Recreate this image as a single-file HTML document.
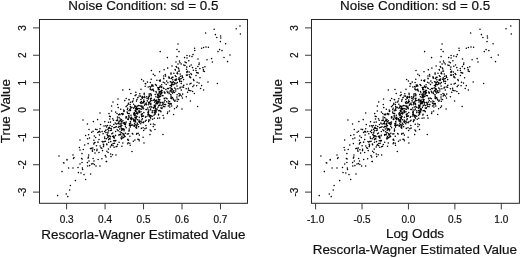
<!DOCTYPE html>
<html><head><meta charset="utf-8"><style>
html,body{margin:0;padding:0;background:#fff;width:520px;height:258px;overflow:hidden}
svg{display:block;will-change:transform;font-family:"Liberation Sans",sans-serif;fill:#111}
.b{stroke:#111;stroke-width:0.2px}
.t{stroke:#111;stroke-width:0.2px}
</style></head><body>
<svg width="520" height="258" viewBox="0 0 520 258">
<rect width="520" height="258" fill="#fff"/>
<rect x="39.5" y="19.5" width="208.0" height="183.8" fill="none" stroke="#262626" stroke-width="1"/><path d="M33.0 192.11H39.5" stroke="#3a3a3a" stroke-width="1"/><text transform="translate(26.35 192.11) rotate(-90)" text-anchor="middle" font-size="10" class="t">-3</text><path d="M33.0 164.74H39.5" stroke="#3a3a3a" stroke-width="1"/><text transform="translate(26.35 164.74) rotate(-90)" text-anchor="middle" font-size="10" class="t">-2</text><path d="M33.0 137.37H39.5" stroke="#3a3a3a" stroke-width="1"/><text transform="translate(26.35 137.37) rotate(-90)" text-anchor="middle" font-size="10" class="t">-1</text><path d="M33.0 110.00H39.5" stroke="#3a3a3a" stroke-width="1"/><text transform="translate(26.35 110.00) rotate(-90)" text-anchor="middle" font-size="10" class="t">0</text><path d="M33.0 82.63H39.5" stroke="#3a3a3a" stroke-width="1"/><text transform="translate(26.35 82.63) rotate(-90)" text-anchor="middle" font-size="10" class="t">1</text><path d="M33.0 55.26H39.5" stroke="#3a3a3a" stroke-width="1"/><text transform="translate(26.35 55.26) rotate(-90)" text-anchor="middle" font-size="10" class="t">2</text><path d="M33.0 27.89H39.5" stroke="#3a3a3a" stroke-width="1"/><text transform="translate(26.35 27.89) rotate(-90)" text-anchor="middle" font-size="10" class="t">3</text><path d="M66.60 203.3V209.4" stroke="#3a3a3a" stroke-width="1"/><text x="66.60" y="223.3" text-anchor="middle" font-size="10" class="t">0.3</text><path d="M105.07 203.3V209.4" stroke="#3a3a3a" stroke-width="1"/><text x="105.07" y="223.3" text-anchor="middle" font-size="10" class="t">0.4</text><path d="M143.54 203.3V209.4" stroke="#3a3a3a" stroke-width="1"/><text x="143.54" y="223.3" text-anchor="middle" font-size="10" class="t">0.5</text><path d="M182.01 203.3V209.4" stroke="#3a3a3a" stroke-width="1"/><text x="182.01" y="223.3" text-anchor="middle" font-size="10" class="t">0.6</text><path d="M220.48 203.3V209.4" stroke="#3a3a3a" stroke-width="1"/><text x="220.48" y="223.3" text-anchor="middle" font-size="10" class="t">0.7</text><text transform="translate(10.15 111.2) rotate(-90)" text-anchor="middle" font-size="13.42" class="b">True Value</text><text x="143.40" y="10.1" text-anchor="middle" font-size="13.42" class="b">Noise Condition: sd = 0.5</text><text x="143.4" y="238.9" text-anchor="middle" font-size="13.42" class="b">Rescorla-Wagner Estimated Value</text>
<rect x="311.5" y="19.5" width="207.89999999999998" height="183.8" fill="none" stroke="#262626" stroke-width="1"/><path d="M305.0 192.11H311.5" stroke="#3a3a3a" stroke-width="1"/><text transform="translate(298.35 192.11) rotate(-90)" text-anchor="middle" font-size="10" class="t">-3</text><path d="M305.0 164.74H311.5" stroke="#3a3a3a" stroke-width="1"/><text transform="translate(298.35 164.74) rotate(-90)" text-anchor="middle" font-size="10" class="t">-2</text><path d="M305.0 137.37H311.5" stroke="#3a3a3a" stroke-width="1"/><text transform="translate(298.35 137.37) rotate(-90)" text-anchor="middle" font-size="10" class="t">-1</text><path d="M305.0 110.00H311.5" stroke="#3a3a3a" stroke-width="1"/><text transform="translate(298.35 110.00) rotate(-90)" text-anchor="middle" font-size="10" class="t">0</text><path d="M305.0 82.63H311.5" stroke="#3a3a3a" stroke-width="1"/><text transform="translate(298.35 82.63) rotate(-90)" text-anchor="middle" font-size="10" class="t">1</text><path d="M305.0 55.26H311.5" stroke="#3a3a3a" stroke-width="1"/><text transform="translate(298.35 55.26) rotate(-90)" text-anchor="middle" font-size="10" class="t">2</text><path d="M305.0 27.89H311.5" stroke="#3a3a3a" stroke-width="1"/><text transform="translate(298.35 27.89) rotate(-90)" text-anchor="middle" font-size="10" class="t">3</text><path d="M315.60 203.3V209.4" stroke="#3a3a3a" stroke-width="1"/><text x="315.60" y="223.3" text-anchor="middle" font-size="10" class="t">-1.0</text><path d="M362.02 203.3V209.4" stroke="#3a3a3a" stroke-width="1"/><text x="362.02" y="223.3" text-anchor="middle" font-size="10" class="t">-0.5</text><path d="M408.45 203.3V209.4" stroke="#3a3a3a" stroke-width="1"/><text x="408.45" y="223.3" text-anchor="middle" font-size="10" class="t">0.0</text><path d="M454.88 203.3V209.4" stroke="#3a3a3a" stroke-width="1"/><text x="454.88" y="223.3" text-anchor="middle" font-size="10" class="t">0.5</text><path d="M501.30 203.3V209.4" stroke="#3a3a3a" stroke-width="1"/><text x="501.30" y="223.3" text-anchor="middle" font-size="10" class="t">1.0</text><text transform="translate(282.0 111.2) rotate(-90)" text-anchor="middle" font-size="13.42" class="b">True Value</text><text x="415.10" y="10.1" text-anchor="middle" font-size="13.42" class="b">Noise Condition: sd = 0.5</text><text x="415.0" y="238.4" text-anchor="middle" font-size="13.42" class="b">Log Odds</text><text x="414.8" y="254.2" text-anchor="middle" font-size="13.42" class="b">Rescorla-Wagner Estimated Value</text>
<path d="M240.0 26.0h0M236.2 28.8h0M240.4 34.0h0M214.2 29.2h0M205.6 33.0h0M215.4 34.6h0M216.8 37.4h0M220.6 36.0h0M220.8 38.0h0M220.4 41.6h0M225.6 43.8h0M178.0 44.0h0M177.0 49.4h0M179.0 51.6h0M160.2 51.6h0M194.6 48.2h0M194.8 50.4h0M201.6 48.2h0M203.6 47.4h0M206.0 47.0h0M208.4 47.2h0M219.6 49.6h0M222.0 50.6h0M218.0 51.6h0M230.0 55.0h0M224.0 57.4h0M227.6 61.6h0M211.6 58.6h0M212.4 62.0h0M207.0 59.8h0M198.0 59.0h0M199.2 63.0h0M167.4 57.6h0M177.0 56.6h0M193.0 54.6h0M192.0 56.6h0M189.6 56.0h0M187.0 55.4h0M184.6 57.6h0M187.0 58.0h0M217.4 83.4h0M208.0 82.0h0M201.6 85.6h0M200.6 88.4h0M203.6 90.0h0M194.4 93.4h0M190.4 101.0h0M197.6 106.4h0M182.0 109.0h0M173.6 114.4h0M199.0 64.4h0M163.0 134.4h0M150.0 134.6h0M155.0 129.4h0M144.0 143.0h0M141.6 79.4h0M129.6 89.4h0M122.8 90.0h0M118.0 99.0h0M113.0 102.0h0M111.6 106.0h0M117.6 104.4h0M100.0 113.0h0M109.0 113.6h0M111.6 111.0h0M83.0 120.0h0M97.6 119.6h0M151.4 70.4h0M172.0 66.0h0M176.0 62.0h0M178.0 64.0h0M59.0 156.0h0M64.0 163.0h0M67.0 159.6h0M73.0 155.0h0M74.0 157.4h0M80.0 140.0h0M85.6 135.4h0M89.0 129.4h0M87.4 124.0h0M93.4 121.6h0M80.0 150.0h0M82.0 153.6h0M81.6 158.4h0M132.0 151.4h0M116.0 155.0h0M111.0 156.6h0M106.0 157.0h0M106.2 161.5h0M101.9 158.8h0M57.6 195.6h0M66.2 194.0h0M67.8 196.6h0M69.6 190.0h0M70.4 185.4h0M75.4 180.6h0M85.6 179.4h0M62.0 171.6h0M63.6 162.8h0M68.6 168.0h0M73.0 168.0h0M78.0 167.4h0M78.4 172.6h0M81.0 173.0h0M84.0 174.6h0M90.6 174.0h0M82.4 168.0h0M82.6 169.4h0M80.0 164.0h0M82.0 162.4h0M87.4 162.6h0M87.6 166.0h0M89.6 165.6h0M91.6 164.0h0M93.0 163.6h0M94.4 164.4h0M96.0 166.0h0M100.0 166.0h0M106.6 161.6h0M94.0 161.0h0M89.0 161.0h0M67.0 160.0h0M188.8 60.8h0M179.4 61.1h0M180.0 62.8h0M185.0 62.0h0M186.2 62.8h0M181.2 64.0h0M183.8 64.9h0M185.0 65.5h0M191.2 64.9h0M73.5 158.5h0M82.2 159.0h0M92.3 150.0h0M92.5 151.2h0M96.9 150.6h0M95.0 153.1h0M99.0 152.5h0M102.5 150.6h0M106.9 151.2h0M108.1 152.5h0M110.6 154.0h0M112.5 154.8h0M105.3 155.6h0M88.7 155.0h0M88.5 156.9h0M88.1 158.1h0M93.1 158.5h0M98.1 159.4h0M94.4 149.8h0M83.3 149.5h0M97.0 149.2h0M108.4 149.1h0M90.5 148.6h0M91.5 148.3h0M101.8 148.3h0M92.8 147.9h0M100.9 147.7h0M79.4 147.5h0M114.1 147.3h0M110.4 147.0h0M116.1 146.8h0M103.5 146.6h0M103.5 146.5h0M121.9 146.3h0M117.0 146.2h0M100.1 145.9h0M96.5 145.7h0M113.0 145.6h0M111.3 145.4h0M130.2 145.3h0M84.7 145.0h0M103.7 145.0h0M106.9 144.8h0M111.7 144.6h0M117.6 144.5h0M103.4 144.2h0M106.7 144.1h0M93.8 143.9h0M127.7 143.8h0M88.1 143.6h0M113.1 143.4h0M129.8 143.2h0M114.5 143.2h0M122.8 143.0h0M94.2 142.9h0M128.2 142.7h0M95.0 142.5h0M119.1 142.3h0M108.7 142.2h0M98.0 142.2h0M102.8 142.0h0M98.0 141.9h0M110.8 141.6h0M104.1 141.6h0M102.2 141.4h0M105.4 141.3h0M133.3 141.2h0M114.9 140.9h0M113.6 140.8h0M139.3 140.8h0M115.8 140.6h0M114.8 140.5h0M128.5 140.3h0M93.9 140.2h0M134.9 140.1h0M127.7 139.8h0M108.7 139.6h0M138.9 139.5h0M99.0 139.4h0M127.9 139.3h0M137.9 139.2h0M121.5 139.0h0M110.2 138.9h0M87.6 138.7h0M106.4 138.7h0M109.5 138.5h0M104.8 138.4h0M121.9 138.2h0M114.2 138.1h0M121.0 138.0h0M89.5 137.9h0M123.1 137.7h0M107.8 137.6h0M113.7 137.6h0M95.7 137.4h0M143.1 137.3h0M104.6 137.1h0M114.2 137.0h0M124.0 136.9h0M110.5 136.8h0M108.3 136.7h0M121.9 136.6h0M125.1 136.5h0M112.6 136.4h0M129.9 136.3h0M109.8 136.1h0M113.5 136.0h0M94.3 135.9h0M108.9 135.8h0M124.5 135.7h0M115.5 135.6h0M107.5 135.5h0M119.0 135.3h0M115.6 135.3h0M139.3 135.1h0M99.5 135.0h0M123.1 134.9h0M120.8 134.8h0M88.6 134.7h0M120.4 134.6h0M107.2 134.5h0M119.1 134.4h0M136.6 134.3h0M124.0 134.2h0M132.9 134.1h0M127.3 134.0h0M111.8 133.8h0M103.1 133.7h0M128.5 133.7h0M136.8 133.5h0M132.3 133.4h0M122.9 133.4h0M125.4 133.2h0M138.2 133.2h0M112.8 133.0h0M120.9 133.0h0M107.9 132.9h0M106.0 132.6h0M97.8 132.5h0M121.5 132.5h0M108.0 132.3h0M91.7 132.2h0M100.1 132.0h0M120.0 131.8h0M98.8 131.8h0M102.1 131.6h0M104.7 131.6h0M115.6 131.5h0M115.6 131.4h0M99.4 131.3h0M93.1 131.2h0M129.0 131.1h0M151.1 131.0h0M124.0 130.8h0M108.8 130.7h0M118.2 130.7h0M143.7 130.5h0M129.2 130.5h0M110.6 130.4h0M105.7 130.3h0M121.5 130.2h0M111.5 130.1h0M122.1 130.0h0M150.2 129.9h0M106.0 129.9h0M117.2 129.8h0M97.0 129.6h0M124.2 129.5h0M107.9 129.5h0M124.1 129.3h0M95.5 129.3h0M123.1 129.2h0M122.5 129.1h0M119.7 129.0h0M129.2 128.9h0M100.0 128.8h0M144.9 128.8h0M123.1 128.7h0M111.2 128.5h0M121.5 128.5h0M141.4 128.4h0M108.5 128.3h0M109.8 128.2h0M146.2 128.1h0M136.7 128.1h0M136.3 128.0h0M143.1 127.8h0M113.9 127.7h0M126.2 127.7h0M109.4 127.6h0M109.0 127.5h0M135.8 127.3h0M115.2 127.3h0M118.3 127.2h0M130.2 127.1h0M106.6 127.0h0M121.0 126.9h0M138.6 126.8h0M116.3 126.8h0M136.4 126.7h0M153.3 126.6h0M112.0 126.5h0M119.0 126.4h0M120.0 126.4h0M120.4 126.3h0M125.4 126.2h0M134.5 126.1h0M104.0 126.0h0M133.9 125.9h0M130.2 125.8h0M105.8 125.8h0M136.9 125.7h0M121.8 125.6h0M145.9 125.5h0M110.1 125.4h0M107.5 125.4h0M129.4 125.3h0M131.1 125.2h0M134.2 125.2h0M136.5 125.1h0M132.5 125.0h0M131.5 124.9h0M154.9 124.8h0M120.9 124.7h0M135.3 124.7h0M125.3 124.5h0M138.0 124.5h0M100.6 124.4h0M113.8 124.4h0M129.9 124.2h0M150.6 124.2h0M116.4 124.1h0M124.4 124.1h0M153.4 123.9h0M119.3 123.9h0M125.7 123.8h0M140.8 123.7h0M117.9 123.6h0M120.9 123.5h0M129.5 123.4h0M134.6 123.3h0M137.3 123.2h0M121.3 123.1h0M115.2 123.1h0M123.0 123.0h0M123.7 122.9h0M130.6 122.9h0M118.7 122.7h0M143.3 122.7h0M139.7 122.6h0M124.7 122.5h0M139.8 122.4h0M108.5 122.3h0M143.6 122.3h0M141.9 122.2h0M110.5 122.1h0M126.1 122.1h0M135.7 121.9h0M143.6 121.9h0M104.8 121.8h0M138.8 121.7h0M148.6 121.6h0M130.4 121.6h0M119.0 121.5h0M121.7 121.4h0M130.4 121.4h0M140.8 121.3h0M145.3 121.2h0M133.8 121.1h0M135.3 121.1h0M139.3 121.0h0M134.8 120.9h0M120.0 120.8h0M122.9 120.7h0M120.8 120.7h0M133.8 120.6h0M116.4 120.5h0M117.5 120.4h0M113.5 120.3h0M146.2 120.2h0M135.2 120.1h0M148.7 120.0h0M139.0 120.0h0M149.8 119.9h0M137.3 119.8h0M141.8 119.8h0M131.5 119.6h0M134.9 119.6h0M121.5 119.5h0M128.4 119.4h0M133.3 119.4h0M152.6 119.3h0M133.2 119.3h0M127.7 119.2h0M130.9 119.1h0M109.8 119.0h0M120.2 119.0h0M117.5 118.9h0M142.4 118.8h0M128.4 118.8h0M112.7 118.7h0M136.1 118.6h0M132.9 118.5h0M130.5 118.4h0M131.3 118.4h0M157.7 118.3h0M154.3 118.3h0M163.8 118.1h0M150.7 118.1h0M159.6 118.0h0M125.9 117.9h0M135.1 117.8h0M126.4 117.8h0M119.1 117.6h0M131.1 117.6h0M134.9 117.5h0M136.1 117.4h0M139.3 117.3h0M131.5 117.3h0M145.5 117.2h0M150.3 117.2h0M117.5 117.1h0M126.6 117.0h0M128.7 116.9h0M129.5 116.9h0M126.0 116.8h0M141.7 116.7h0M137.0 116.6h0M110.3 116.6h0M146.0 116.5h0M149.7 116.4h0M142.4 116.3h0M109.5 116.3h0M152.2 116.2h0M136.0 116.1h0M143.2 116.1h0M151.4 116.0h0M143.5 115.9h0M147.9 115.9h0M149.5 115.7h0M141.8 115.7h0M134.7 115.6h0M128.8 115.5h0M150.8 115.5h0M163.1 115.4h0M134.8 115.3h0M131.0 115.3h0M154.0 115.2h0M149.4 115.1h0M134.0 115.0h0M141.7 115.0h0M158.5 114.9h0M120.0 114.8h0M141.4 114.8h0M118.5 114.7h0M148.7 114.7h0M122.5 114.6h0M133.8 114.5h0M147.9 114.3h0M141.4 114.3h0M158.6 114.2h0M155.0 114.2h0M119.6 114.1h0M137.5 114.0h0M135.4 114.0h0M123.4 113.9h0M121.6 113.8h0M133.7 113.8h0M142.4 113.7h0M129.2 113.6h0M127.9 113.5h0M117.0 113.5h0M122.2 113.4h0M167.4 113.4h0M148.4 113.3h0M136.6 113.2h0M155.3 113.2h0M138.0 113.1h0M134.5 113.0h0M155.0 113.0h0M134.2 112.8h0M154.4 112.8h0M148.5 112.7h0M127.4 112.7h0M143.9 112.6h0M152.2 112.6h0M134.3 112.4h0M139.6 112.4h0M147.9 112.3h0M154.3 112.3h0M139.3 112.2h0M136.8 112.1h0M115.7 112.1h0M156.2 112.0h0M127.2 112.0h0M167.7 111.9h0M141.0 111.8h0M160.9 111.7h0M156.0 111.7h0M155.4 111.6h0M148.5 111.5h0M123.9 111.4h0M138.9 111.4h0M135.6 111.4h0M160.8 111.2h0M139.5 111.1h0M124.3 111.1h0M152.3 111.0h0M169.5 111.0h0M129.0 110.8h0M158.7 110.8h0M139.0 110.7h0M152.2 110.7h0M159.8 110.6h0M135.1 110.5h0M135.4 110.5h0M130.5 110.4h0M154.1 110.4h0M130.6 110.3h0M155.4 110.2h0M155.7 110.1h0M148.3 110.1h0M156.8 110.0h0M123.6 109.9h0M150.1 109.9h0M136.2 109.8h0M136.9 109.8h0M156.7 109.7h0M127.4 109.6h0M129.8 109.5h0M146.6 109.5h0M146.0 109.4h0M130.1 109.3h0M141.6 109.3h0M120.7 109.2h0M137.6 109.2h0M157.1 109.1h0M150.7 109.0h0M136.5 108.9h0M140.8 108.9h0M174.5 108.8h0M143.5 108.8h0M139.5 108.7h0M135.7 108.6h0M161.9 108.5h0M138.1 108.5h0M155.7 108.4h0M127.7 108.3h0M133.7 108.3h0M153.7 108.2h0M130.5 108.1h0M142.9 108.1h0M136.8 108.0h0M147.8 107.9h0M160.9 107.9h0M134.0 107.8h0M131.8 107.8h0M162.1 107.7h0M118.2 107.6h0M153.6 107.5h0M176.5 107.4h0M155.1 107.4h0M158.0 107.3h0M151.9 107.3h0M131.9 107.2h0M141.9 107.1h0M169.8 107.0h0M149.6 107.0h0M136.1 106.9h0M143.2 106.9h0M151.0 106.8h0M164.9 106.7h0M134.8 106.6h0M155.3 106.6h0M126.1 106.6h0M130.3 106.5h0M163.5 106.4h0M154.5 106.3h0M136.0 106.3h0M141.2 106.2h0M177.4 106.1h0M137.7 106.1h0M168.3 106.0h0M171.7 105.9h0M141.9 105.9h0M134.8 105.8h0M140.0 105.8h0M158.7 105.7h0M161.2 105.6h0M127.2 105.5h0M154.8 105.5h0M138.6 105.4h0M159.5 105.3h0M154.2 105.3h0M144.5 105.2h0M169.5 105.0h0M162.8 105.0h0M155.8 105.0h0M148.5 104.8h0M146.5 104.8h0M150.9 104.7h0M163.0 104.6h0M165.6 104.6h0M130.1 104.5h0M146.2 104.5h0M164.7 104.4h0M145.9 104.3h0M128.2 104.3h0M133.7 104.2h0M171.2 104.1h0M150.3 104.1h0M160.0 104.0h0M145.1 103.9h0M157.4 103.8h0M170.0 103.8h0M157.6 103.7h0M156.0 103.6h0M141.1 103.5h0M148.9 103.5h0M171.0 103.4h0M168.6 103.4h0M128.5 103.3h0M150.9 103.3h0M163.2 103.2h0M146.3 103.1h0M142.8 103.0h0M168.3 103.0h0M157.1 102.9h0M142.2 102.8h0M158.2 102.8h0M143.5 102.7h0M162.1 102.6h0M140.4 102.6h0M148.6 102.5h0M160.4 102.4h0M162.5 102.4h0M149.5 102.3h0M130.5 102.2h0M156.2 102.1h0M154.5 102.1h0M132.3 102.0h0M164.2 102.0h0M159.6 101.9h0M158.8 101.8h0M169.7 101.8h0M166.7 101.7h0M144.3 101.6h0M141.4 101.5h0M143.5 101.4h0M157.5 101.4h0M177.2 101.3h0M174.8 101.3h0M150.4 101.2h0M136.5 101.1h0M147.4 101.0h0M133.0 100.9h0M168.6 100.9h0M159.0 100.9h0M147.2 100.8h0M155.4 100.7h0M124.8 100.6h0M155.8 100.6h0M165.0 100.5h0M156.2 100.4h0M152.0 100.4h0M153.7 100.3h0M175.1 100.2h0M150.8 100.1h0M173.6 100.0h0M156.8 100.0h0M143.8 99.9h0M129.2 99.8h0M154.5 99.8h0M159.8 99.7h0M158.6 99.6h0M128.9 99.6h0M137.0 99.5h0M178.5 99.4h0M140.9 99.4h0M154.4 99.3h0M148.4 99.1h0M173.3 99.1h0M158.6 99.0h0M177.1 98.9h0M133.5 98.8h0M167.1 98.8h0M164.4 98.7h0M171.7 98.6h0M150.5 98.6h0M126.2 98.5h0M147.0 98.4h0M164.2 98.3h0M142.4 98.2h0M151.4 98.2h0M170.8 98.1h0M166.0 98.1h0M171.5 98.0h0M182.4 97.9h0M141.7 97.8h0M142.5 97.8h0M137.8 97.7h0M144.8 97.6h0M172.5 97.5h0M157.5 97.5h0M148.4 97.4h0M138.0 97.4h0M158.8 97.3h0M143.2 97.2h0M148.6 97.1h0M176.9 97.1h0M158.5 96.9h0M159.6 96.9h0M146.7 96.8h0M155.9 96.8h0M186.3 96.7h0M149.2 96.6h0M142.2 96.5h0M171.1 96.5h0M159.8 96.4h0M144.6 96.3h0M160.6 96.2h0M140.4 96.1h0M157.9 96.1h0M139.1 96.0h0M179.1 96.0h0M181.6 95.9h0M151.1 95.8h0M163.0 95.7h0M135.1 95.6h0M158.0 95.6h0M158.7 95.5h0M162.3 95.4h0M180.1 95.3h0M149.2 95.2h0M151.3 95.1h0M159.2 95.0h0M170.9 94.9h0M136.1 94.8h0M177.1 94.7h0M160.7 94.6h0M157.4 94.6h0M155.2 94.5h0M170.7 94.4h0M144.2 94.3h0M180.1 94.3h0M151.0 94.2h0M182.7 94.1h0M150.8 94.0h0M149.2 93.9h0M158.3 93.9h0M139.8 93.8h0M150.5 93.7h0M169.1 93.6h0M178.9 93.5h0M161.4 93.5h0M130.9 93.4h0M164.9 93.3h0M144.2 93.3h0M159.5 93.1h0M172.6 93.1h0M160.7 93.0h0M161.4 92.9h0M156.4 92.8h0M162.1 92.7h0M167.6 92.6h0M174.5 92.5h0M164.9 92.5h0M135.8 92.3h0M173.1 92.3h0M187.6 92.2h0M169.1 92.1h0M159.0 92.0h0M171.3 92.0h0M164.2 91.9h0M159.6 91.8h0M171.2 91.7h0M173.0 91.6h0M161.2 91.6h0M192.6 91.4h0M156.0 91.4h0M167.1 91.3h0M170.9 91.2h0M160.6 91.2h0M175.7 91.0h0M153.8 90.9h0M173.8 90.8h0M190.8 90.7h0M162.1 90.7h0M170.3 90.5h0M153.3 90.4h0M189.3 90.4h0M161.7 90.3h0M188.8 90.2h0M171.2 90.1h0M188.5 90.0h0M181.3 90.0h0M151.2 89.9h0M172.3 89.8h0M159.3 89.7h0M158.3 89.6h0M165.9 89.5h0M152.5 89.4h0M141.0 89.3h0M153.2 89.3h0M175.8 89.1h0M150.1 89.1h0M150.4 89.0h0M172.2 88.9h0M186.2 88.8h0M177.9 88.7h0M168.5 88.6h0M158.3 88.6h0M164.0 88.4h0M167.5 88.4h0M188.4 88.3h0M171.2 88.2h0M180.0 88.1h0M174.6 88.0h0M158.5 87.9h0M163.4 87.9h0M170.1 87.7h0M157.8 87.6h0M159.3 87.6h0M161.3 87.4h0M183.5 87.3h0M180.3 87.2h0M150.5 87.1h0M182.1 87.0h0M148.2 86.9h0M161.8 86.8h0M192.9 86.6h0M149.9 86.6h0M160.2 86.4h0M145.2 86.3h0M171.5 86.2h0M151.9 86.2h0M177.0 86.0h0M160.2 86.0h0M153.2 85.9h0M196.7 85.7h0M156.4 85.6h0M156.3 85.5h0M170.2 85.4h0M183.5 85.4h0M193.9 85.3h0M183.8 85.2h0M151.6 85.1h0M152.6 84.9h0M171.5 84.9h0M161.7 84.8h0M173.1 84.7h0M166.2 84.5h0M155.5 84.5h0M171.5 84.3h0M187.0 84.2h0M174.3 84.1h0M172.1 84.1h0M189.9 84.0h0M145.8 83.8h0M176.1 83.8h0M145.3 83.6h0M181.2 83.5h0M175.8 83.3h0M191.0 83.2h0M199.0 83.1h0M164.7 83.0h0M167.9 82.8h0M174.4 82.7h0M172.1 82.7h0M177.3 82.6h0M150.4 82.4h0M163.3 82.3h0M197.1 82.3h0M147.5 82.1h0M172.9 82.0h0M171.0 81.9h0M173.4 81.8h0M170.3 81.7h0M179.7 81.6h0M181.5 81.4h0M160.1 81.3h0M181.2 81.3h0M166.7 81.1h0M143.5 80.9h0M159.4 80.6h0M193.9 80.6h0M176.0 80.4h0M156.9 80.2h0M179.6 80.2h0M174.9 80.1h0M160.4 79.9h0M172.7 79.8h0M183.6 79.6h0M175.6 79.5h0M193.5 79.4h0M151.2 79.3h0M178.5 79.2h0M176.5 79.1h0M179.9 79.0h0M163.8 78.8h0M181.2 78.5h0M171.2 78.5h0M163.6 78.3h0M169.2 78.2h0M171.8 78.0h0M200.0 77.8h0M190.7 77.8h0M179.1 77.7h0M182.7 77.4h0M172.2 77.3h0M169.2 77.2h0M172.9 77.2h0M168.6 77.0h0M189.6 76.9h0M182.2 76.6h0M176.0 76.5h0M189.9 76.4h0M180.4 76.2h0M165.6 76.1h0M163.7 76.0h0M182.1 75.8h0M175.3 75.7h0M154.9 75.6h0M196.0 75.5h0M186.7 75.3h0M187.3 75.1h0M186.4 75.0h0M189.2 74.7h0M165.3 74.5h0M191.5 74.4h0M153.3 74.2h0M171.0 74.1h0M180.2 73.9h0M177.7 73.7h0M177.1 73.5h0M190.9 73.4h0M173.9 73.2h0M198.2 73.1h0M171.0 72.9h0M197.2 72.8h0M196.6 72.5h0M187.0 72.4h0M177.3 72.2h0M186.7 72.1h0M189.2 71.9h0M159.6 71.8h0M204.4 71.5h0M178.8 71.3h0M187.5 71.2h0M179.4 70.9h0M203.4 70.9h0M196.0 70.4h0M193.4 70.2h0M175.3 70.1h0M164.1 69.8h0M203.4 69.5h0M175.1 69.4h0M186.5 69.3h0M178.9 69.0h0M199.9 68.6h0M195.9 68.5h0M167.7 68.1h0M178.3 68.0h0M202.9 67.6h0M192.5 67.6h0M176.7 67.3h0M186.8 67.1h0M204.9 66.8h0M197.9 66.5h0M176.2 66.4h0M189.6 66.2h0" stroke="#000" stroke-width="1.55" stroke-linecap="round" fill="none"/>
<path d="M510.8 26.0h0M506.0 28.8h0M511.3 34.0h0M480.0 29.2h0M470.6 33.0h0M481.4 34.6h0M482.9 37.4h0M487.3 36.0h0M487.5 38.0h0M487.0 41.6h0M493.1 43.8h0M442.1 44.0h0M441.1 49.4h0M443.1 51.6h0M424.6 51.6h0M459.0 48.2h0M459.2 50.4h0M466.3 48.2h0M468.4 47.4h0M471.0 47.0h0M473.6 47.2h0M486.1 49.6h0M488.9 50.6h0M484.3 51.6h0M498.3 55.0h0M491.2 57.4h0M495.5 61.6h0M477.1 58.6h0M478.0 62.0h0M472.1 59.8h0M462.5 59.0h0M463.8 63.0h0M431.6 57.6h0M441.1 56.6h0M457.3 54.6h0M456.3 56.6h0M453.8 56.0h0M451.1 55.4h0M448.7 57.6h0M451.1 58.0h0M483.6 83.4h0M473.2 82.0h0M466.3 85.6h0M465.2 88.4h0M468.4 90.0h0M458.7 93.4h0M454.6 101.0h0M462.1 106.4h0M446.1 109.0h0M437.7 114.4h0M463.6 64.4h0M427.3 134.4h0M414.7 134.6h0M419.5 129.4h0M408.9 143.0h0M406.6 79.4h0M395.0 89.4h0M388.3 90.0h0M383.6 99.0h0M378.7 102.0h0M377.3 106.0h0M383.3 104.4h0M365.7 113.0h0M374.7 113.6h0M377.3 111.0h0M347.9 120.0h0M363.2 119.6h0M416.0 70.4h0M436.1 66.0h0M440.1 62.0h0M442.1 64.0h0M320.9 156.0h0M326.8 163.0h0M330.2 159.6h0M337.0 155.0h0M338.1 157.4h0M344.7 140.0h0M350.7 135.4h0M354.3 129.4h0M352.6 124.0h0M358.9 121.6h0M344.7 150.0h0M346.9 153.6h0M346.4 158.4h0M397.3 151.4h0M381.7 155.0h0M376.7 156.6h0M371.7 157.0h0M372.0 161.5h0M367.6 158.8h0M319.2 195.6h0M329.3 194.0h0M331.2 196.6h0M333.2 190.0h0M334.1 185.4h0M339.7 180.6h0M350.7 179.4h0M324.4 171.6h0M326.3 162.8h0M332.1 168.0h0M337.0 168.0h0M342.5 167.4h0M343.0 172.6h0M345.8 173.0h0M349.0 174.6h0M356.0 174.0h0M347.3 168.0h0M347.5 169.4h0M344.7 164.0h0M346.9 162.4h0M352.6 162.6h0M352.8 166.0h0M354.9 165.6h0M357.0 164.0h0M358.5 163.6h0M359.9 164.4h0M361.6 166.0h0M365.7 166.0h0M372.3 161.6h0M359.5 161.0h0M354.3 161.0h0M330.2 160.0h0M452.9 60.8h0M443.5 61.1h0M444.1 62.8h0M449.1 62.0h0M450.4 62.8h0M445.3 64.0h0M447.9 64.9h0M449.1 65.5h0M455.5 64.9h0M337.6 158.5h0M347.1 159.0h0M357.7 150.0h0M358.0 151.2h0M362.5 150.6h0M360.6 153.1h0M364.7 152.5h0M368.2 150.6h0M372.6 151.2h0M373.8 152.5h0M376.3 154.0h0M378.2 154.8h0M371.0 155.6h0M354.0 155.0h0M353.8 156.9h0M353.4 158.1h0M358.6 158.5h0M363.7 159.4h0M359.9 149.8h0M348.2 149.5h0M362.6 149.2h0M374.2 149.1h0M355.9 148.6h0M356.9 148.3h0M367.5 148.3h0M358.3 147.9h0M366.6 147.7h0M344.1 147.5h0M379.8 147.3h0M376.2 147.0h0M381.7 146.8h0M369.3 146.6h0M369.2 146.5h0M387.5 146.3h0M382.6 146.2h0M365.8 145.9h0M362.1 145.7h0M378.7 145.6h0M377.0 145.4h0M395.5 145.3h0M349.8 145.0h0M369.5 145.0h0M372.6 144.8h0M377.4 144.6h0M383.3 144.5h0M369.1 144.2h0M372.4 144.1h0M359.3 143.9h0M393.1 143.8h0M353.4 143.6h0M378.8 143.4h0M395.2 143.2h0M380.2 143.2h0M388.3 143.0h0M359.8 142.9h0M393.6 142.7h0M360.5 142.5h0M384.7 142.3h0M374.5 142.2h0M363.6 142.2h0M368.5 142.0h0M363.6 141.9h0M376.5 141.6h0M369.8 141.6h0M368.0 141.4h0M371.1 141.3h0M398.5 141.2h0M380.6 140.9h0M379.3 140.8h0M404.4 140.8h0M381.4 140.6h0M380.5 140.5h0M393.9 140.3h0M359.4 140.2h0M400.1 140.1h0M393.1 139.8h0M374.5 139.6h0M403.9 139.5h0M364.7 139.4h0M393.4 139.3h0M403.0 139.2h0M387.0 139.0h0M375.9 138.9h0M352.9 138.7h0M372.2 138.7h0M375.2 138.5h0M370.5 138.4h0M387.5 138.2h0M379.9 138.1h0M386.6 138.0h0M354.8 137.9h0M388.6 137.7h0M373.5 137.6h0M379.4 137.6h0M361.3 137.4h0M408.1 137.3h0M370.3 137.1h0M379.9 137.0h0M389.5 136.9h0M376.2 136.8h0M374.0 136.7h0M387.5 136.6h0M390.6 136.5h0M378.3 136.4h0M395.3 136.3h0M375.6 136.1h0M379.2 136.0h0M359.8 135.9h0M374.6 135.8h0M390.1 135.7h0M381.2 135.6h0M373.3 135.5h0M384.7 135.3h0M381.3 135.3h0M404.3 135.1h0M365.1 135.0h0M388.7 134.9h0M386.4 134.8h0M353.9 134.7h0M386.0 134.6h0M372.9 134.5h0M384.7 134.4h0M401.7 134.3h0M389.6 134.2h0M398.1 134.1h0M392.8 134.0h0M377.5 133.8h0M368.8 133.7h0M393.9 133.7h0M401.9 133.5h0M397.6 133.4h0M388.5 133.4h0M390.9 133.2h0M403.3 133.2h0M378.5 133.0h0M386.5 133.0h0M373.7 132.9h0M371.7 132.6h0M363.5 132.5h0M387.1 132.5h0M373.8 132.3h0M357.1 132.2h0M365.8 132.0h0M385.6 131.8h0M364.5 131.8h0M367.8 131.6h0M370.4 131.6h0M381.3 131.5h0M381.3 131.4h0M365.0 131.3h0M358.5 131.2h0M394.4 131.1h0M415.7 131.0h0M389.5 130.8h0M374.6 130.7h0M383.8 130.7h0M408.6 130.5h0M394.5 130.5h0M376.4 130.4h0M371.5 130.3h0M387.1 130.2h0M377.3 130.1h0M387.7 130.0h0M414.9 129.9h0M371.7 129.9h0M382.9 129.8h0M362.6 129.6h0M389.7 129.5h0M373.7 129.5h0M389.6 129.3h0M361.1 129.3h0M388.7 129.2h0M388.1 129.1h0M385.3 129.0h0M394.5 128.9h0M365.7 128.8h0M409.8 128.8h0M388.6 128.7h0M377.0 128.5h0M387.1 128.5h0M406.3 128.4h0M374.3 128.3h0M375.6 128.2h0M411.1 128.1h0M401.8 128.1h0M401.5 128.0h0M408.0 127.8h0M379.6 127.7h0M391.6 127.7h0M375.1 127.6h0M374.8 127.5h0M401.0 127.3h0M380.9 127.3h0M383.9 127.2h0M395.5 127.1h0M372.4 127.0h0M386.6 126.9h0M403.7 126.8h0M382.0 126.8h0M401.5 126.7h0M417.9 126.6h0M377.7 126.5h0M384.6 126.4h0M385.6 126.4h0M386.0 126.3h0M390.8 126.2h0M399.7 126.1h0M369.7 126.0h0M399.1 125.9h0M395.5 125.8h0M371.6 125.8h0M402.0 125.7h0M387.4 125.6h0M410.8 125.5h0M375.8 125.4h0M373.2 125.4h0M394.8 125.3h0M396.5 125.2h0M399.4 125.2h0M401.6 125.1h0M397.8 125.0h0M396.8 124.9h0M419.4 124.8h0M386.5 124.7h0M400.5 124.7h0M390.8 124.5h0M403.1 124.5h0M366.3 124.4h0M379.5 124.4h0M395.3 124.2h0M415.3 124.2h0M382.1 124.1h0M389.9 124.1h0M417.9 123.9h0M384.9 123.9h0M391.2 123.8h0M405.8 123.7h0M383.6 123.6h0M386.5 123.5h0M394.9 123.4h0M399.8 123.3h0M402.4 123.2h0M386.9 123.1h0M380.9 123.1h0M388.5 123.0h0M389.2 122.9h0M395.9 122.9h0M384.3 122.7h0M408.2 122.7h0M404.8 122.6h0M390.2 122.5h0M404.8 122.4h0M374.2 122.3h0M408.5 122.3h0M406.8 122.2h0M376.2 122.1h0M391.5 122.1h0M400.9 121.9h0M408.6 121.9h0M370.5 121.8h0M403.8 121.7h0M413.4 121.6h0M395.7 121.6h0M384.6 121.5h0M387.3 121.4h0M395.8 121.4h0M405.8 121.3h0M410.1 121.2h0M399.1 121.1h0M400.5 121.1h0M404.4 121.0h0M400.0 120.9h0M385.6 120.8h0M388.4 120.7h0M386.4 120.7h0M399.0 120.6h0M382.0 120.5h0M383.2 120.4h0M379.2 120.3h0M411.0 120.2h0M400.4 120.1h0M413.5 120.0h0M404.1 120.0h0M414.5 119.9h0M402.4 119.8h0M406.8 119.8h0M396.8 119.6h0M400.1 119.6h0M387.0 119.5h0M393.8 119.4h0M398.6 119.4h0M417.2 119.3h0M398.5 119.3h0M393.2 119.2h0M396.2 119.1h0M375.5 119.0h0M385.8 119.0h0M383.1 118.9h0M407.3 118.8h0M393.8 118.8h0M378.5 118.7h0M401.3 118.6h0M398.2 118.5h0M395.8 118.4h0M396.6 118.4h0M422.1 118.3h0M418.8 118.3h0M428.0 118.1h0M415.4 118.1h0M424.0 118.0h0M391.4 117.9h0M400.3 117.8h0M391.9 117.8h0M384.7 117.6h0M396.4 117.6h0M400.1 117.5h0M401.3 117.4h0M404.4 117.3h0M396.8 117.3h0M410.3 117.2h0M415.0 117.2h0M383.1 117.1h0M392.0 117.0h0M394.1 116.9h0M394.9 116.9h0M391.5 116.8h0M406.7 116.7h0M402.1 116.6h0M376.1 116.6h0M410.8 116.5h0M414.4 116.4h0M407.4 116.3h0M375.2 116.3h0M416.8 116.2h0M401.2 116.1h0M408.1 116.1h0M416.0 116.0h0M408.4 115.9h0M412.7 115.9h0M414.2 115.7h0M406.8 115.7h0M399.9 115.6h0M394.2 115.5h0M415.4 115.5h0M427.4 115.4h0M400.0 115.3h0M396.3 115.3h0M418.6 115.2h0M414.1 115.1h0M399.3 115.0h0M406.6 115.0h0M422.9 114.9h0M385.6 114.8h0M406.4 114.8h0M384.2 114.7h0M413.5 114.7h0M388.1 114.6h0M399.0 114.5h0M412.7 114.3h0M406.4 114.3h0M423.1 114.2h0M419.5 114.2h0M385.2 114.1h0M402.6 114.0h0M400.6 114.0h0M388.9 113.9h0M387.2 113.8h0M398.9 113.8h0M407.4 113.7h0M394.6 113.6h0M393.3 113.5h0M382.7 113.5h0M387.7 113.4h0M431.6 113.4h0M413.2 113.3h0M401.8 113.2h0M419.8 113.2h0M403.1 113.1h0M399.7 113.0h0M419.5 113.0h0M399.4 112.8h0M418.9 112.8h0M413.3 112.7h0M392.8 112.7h0M408.8 112.6h0M416.8 112.6h0M399.6 112.4h0M404.6 112.4h0M412.7 112.3h0M418.9 112.3h0M404.4 112.2h0M402.0 112.1h0M381.4 112.1h0M420.7 112.0h0M392.6 112.0h0M431.9 111.9h0M406.0 111.8h0M425.3 111.7h0M420.5 111.7h0M419.9 111.6h0M413.2 111.5h0M389.4 111.4h0M404.0 111.4h0M400.7 111.4h0M425.1 111.2h0M404.6 111.1h0M389.8 111.1h0M416.9 111.0h0M433.6 111.0h0M394.3 110.8h0M423.1 110.8h0M404.0 110.7h0M416.8 110.7h0M424.2 110.6h0M400.3 110.5h0M400.6 110.5h0M395.8 110.4h0M418.7 110.4h0M395.9 110.3h0M420.0 110.2h0M420.2 110.1h0M413.1 110.1h0M421.3 110.0h0M389.2 109.9h0M414.8 109.9h0M401.3 109.8h0M402.0 109.8h0M421.2 109.7h0M392.8 109.6h0M395.2 109.5h0M411.4 109.5h0M410.8 109.4h0M395.5 109.3h0M406.5 109.3h0M386.3 109.2h0M402.8 109.2h0M421.5 109.1h0M415.4 109.0h0M401.7 108.9h0M405.8 108.9h0M438.6 108.8h0M408.4 108.8h0M404.5 108.7h0M400.9 108.6h0M426.2 108.5h0M403.2 108.5h0M420.2 108.4h0M393.1 108.3h0M398.9 108.3h0M418.3 108.2h0M395.8 108.1h0M407.8 108.1h0M401.9 108.0h0M412.6 107.9h0M425.3 107.9h0M399.3 107.8h0M397.1 107.8h0M426.4 107.7h0M383.8 107.6h0M418.2 107.5h0M440.6 107.4h0M419.7 107.4h0M422.4 107.3h0M416.5 107.3h0M397.2 107.2h0M406.8 107.1h0M433.9 107.0h0M414.3 107.0h0M401.3 106.9h0M408.1 106.9h0M415.7 106.8h0M429.1 106.7h0M400.0 106.6h0M419.8 106.6h0M391.5 106.6h0M395.7 106.5h0M427.8 106.4h0M419.0 106.3h0M401.2 106.3h0M406.2 106.2h0M441.5 106.1h0M402.8 106.1h0M432.5 106.0h0M435.8 105.9h0M406.9 105.9h0M400.0 105.8h0M405.0 105.8h0M423.2 105.7h0M425.5 105.6h0M392.6 105.5h0M419.4 105.5h0M403.6 105.4h0M423.9 105.3h0M418.7 105.3h0M409.3 105.2h0M433.7 105.0h0M427.1 105.0h0M420.3 105.0h0M413.2 104.8h0M411.3 104.8h0M415.6 104.7h0M427.3 104.6h0M429.9 104.6h0M395.4 104.5h0M411.0 104.5h0M429.0 104.4h0M410.8 104.3h0M393.6 104.3h0M398.9 104.2h0M435.3 104.1h0M415.0 104.1h0M424.4 104.0h0M409.9 103.9h0M421.9 103.8h0M434.2 103.8h0M422.1 103.7h0M420.5 103.6h0M406.1 103.5h0M413.7 103.5h0M435.2 103.4h0M432.8 103.4h0M393.9 103.3h0M415.5 103.3h0M427.4 103.2h0M411.1 103.1h0M407.7 103.0h0M432.5 103.0h0M421.6 102.9h0M407.2 102.8h0M422.6 102.8h0M408.4 102.7h0M426.4 102.6h0M405.5 102.6h0M413.3 102.5h0M424.7 102.4h0M426.8 102.4h0M414.2 102.3h0M395.8 102.2h0M420.7 102.1h0M419.0 102.1h0M397.6 102.0h0M428.5 102.0h0M424.0 101.9h0M423.2 101.8h0M433.9 101.8h0M430.9 101.7h0M409.2 101.6h0M406.4 101.5h0M408.4 101.4h0M422.0 101.4h0M441.3 101.3h0M438.9 101.3h0M415.1 101.2h0M401.7 101.1h0M412.2 101.0h0M398.2 100.9h0M432.8 100.9h0M423.4 100.9h0M412.0 100.8h0M420.0 100.7h0M390.3 100.6h0M420.3 100.6h0M429.3 100.5h0M420.7 100.4h0M416.6 100.4h0M418.2 100.3h0M439.2 100.2h0M415.5 100.1h0M437.7 100.0h0M421.2 100.0h0M408.7 99.9h0M394.6 99.8h0M419.0 99.8h0M424.1 99.7h0M423.1 99.6h0M394.3 99.6h0M402.1 99.5h0M442.6 99.4h0M405.9 99.4h0M419.0 99.3h0M413.1 99.1h0M437.4 99.1h0M423.1 99.0h0M441.2 98.9h0M398.8 98.8h0M431.3 98.8h0M428.7 98.7h0M435.8 98.6h0M415.2 98.6h0M391.7 98.5h0M411.8 98.4h0M428.5 98.3h0M407.3 98.2h0M416.0 98.2h0M435.0 98.1h0M430.2 98.1h0M435.7 98.0h0M446.5 97.9h0M406.7 97.8h0M407.4 97.8h0M402.9 97.7h0M409.7 97.6h0M436.7 97.5h0M421.9 97.5h0M413.2 97.4h0M403.1 97.4h0M423.2 97.3h0M408.2 97.2h0M413.3 97.1h0M441.0 97.1h0M422.9 96.9h0M423.9 96.9h0M411.5 96.8h0M420.4 96.8h0M450.4 96.7h0M413.9 96.6h0M407.2 96.5h0M435.3 96.5h0M424.2 96.4h0M409.4 96.3h0M425.0 96.2h0M405.4 96.1h0M422.3 96.1h0M404.2 96.0h0M443.2 96.0h0M445.6 95.9h0M415.8 95.8h0M427.3 95.7h0M400.3 95.6h0M422.5 95.6h0M423.1 95.5h0M426.6 95.4h0M444.2 95.3h0M414.0 95.2h0M415.9 95.1h0M423.6 95.0h0M435.0 94.9h0M401.3 94.8h0M441.1 94.7h0M425.1 94.6h0M421.9 94.6h0M419.7 94.5h0M434.9 94.4h0M409.1 94.3h0M444.2 94.3h0M415.7 94.2h0M446.7 94.1h0M415.5 94.0h0M413.9 93.9h0M422.7 93.9h0M404.8 93.8h0M415.2 93.7h0M433.3 93.6h0M443.0 93.5h0M425.7 93.5h0M396.2 93.4h0M429.2 93.3h0M409.0 93.3h0M423.9 93.1h0M436.7 93.1h0M425.1 93.0h0M425.7 92.9h0M420.9 92.8h0M426.4 92.7h0M431.8 92.6h0M438.6 92.5h0M429.2 92.5h0M400.9 92.3h0M437.2 92.3h0M451.8 92.2h0M433.3 92.1h0M423.4 92.0h0M435.5 92.0h0M428.5 91.9h0M424.0 91.8h0M435.4 91.7h0M437.1 91.6h0M425.5 91.6h0M456.9 91.4h0M420.5 91.4h0M431.3 91.3h0M435.1 91.2h0M425.0 91.2h0M439.8 91.0h0M418.4 90.9h0M437.9 90.8h0M455.0 90.7h0M426.4 90.7h0M434.5 90.5h0M417.9 90.4h0M453.5 90.4h0M426.0 90.3h0M453.0 90.2h0M435.4 90.1h0M452.7 90.0h0M445.3 90.0h0M415.9 89.9h0M436.4 89.8h0M423.7 89.7h0M422.7 89.6h0M430.2 89.5h0M417.1 89.4h0M406.0 89.3h0M417.8 89.3h0M439.9 89.1h0M414.8 89.1h0M415.1 89.0h0M436.3 88.9h0M450.4 88.8h0M441.9 88.7h0M432.7 88.6h0M422.7 88.6h0M428.3 88.4h0M431.7 88.4h0M452.6 88.3h0M435.3 88.2h0M444.1 88.1h0M438.7 88.0h0M423.0 87.9h0M427.7 87.9h0M434.2 87.7h0M422.3 87.6h0M423.7 87.6h0M425.6 87.4h0M447.6 87.3h0M444.4 87.2h0M415.1 87.1h0M446.2 87.0h0M412.9 86.9h0M426.1 86.8h0M457.2 86.6h0M414.6 86.6h0M424.6 86.4h0M410.0 86.3h0M435.6 86.2h0M416.5 86.2h0M441.1 86.0h0M424.5 86.0h0M417.8 85.9h0M461.1 85.7h0M420.9 85.6h0M420.8 85.5h0M434.4 85.4h0M447.6 85.4h0M458.2 85.3h0M447.9 85.2h0M416.2 85.1h0M417.2 84.9h0M435.6 84.9h0M426.1 84.8h0M437.3 84.7h0M430.5 84.5h0M420.0 84.5h0M435.6 84.3h0M451.1 84.2h0M438.4 84.1h0M436.2 84.1h0M454.1 84.0h0M410.7 83.8h0M440.2 83.8h0M410.2 83.6h0M445.2 83.5h0M439.9 83.3h0M455.3 83.2h0M463.5 83.1h0M429.0 83.0h0M432.1 82.8h0M438.5 82.7h0M436.2 82.7h0M441.4 82.6h0M415.1 82.4h0M427.6 82.3h0M461.5 82.3h0M412.2 82.1h0M437.0 82.0h0M435.2 81.9h0M437.5 81.8h0M434.5 81.7h0M443.8 81.6h0M445.5 81.4h0M424.5 81.3h0M445.3 81.3h0M430.9 81.1h0M408.4 80.9h0M423.8 80.6h0M458.2 80.6h0M440.1 80.4h0M421.4 80.2h0M443.7 80.2h0M439.0 80.1h0M424.8 79.9h0M436.8 79.8h0M447.7 79.6h0M439.7 79.5h0M457.9 79.4h0M415.8 79.3h0M442.6 79.2h0M440.6 79.1h0M444.0 79.0h0M428.1 78.8h0M445.3 78.5h0M435.4 78.5h0M427.9 78.3h0M433.3 78.2h0M435.9 78.0h0M464.6 77.8h0M454.9 77.8h0M443.2 77.7h0M446.8 77.4h0M436.3 77.3h0M433.4 77.2h0M437.1 77.2h0M432.8 77.0h0M453.8 76.9h0M446.3 76.6h0M440.1 76.5h0M454.1 76.4h0M444.5 76.2h0M429.8 76.1h0M428.0 76.0h0M446.2 75.8h0M439.4 75.7h0M419.4 75.6h0M460.4 75.5h0M450.8 75.3h0M451.5 75.1h0M450.6 75.0h0M453.4 74.7h0M429.5 74.5h0M455.8 74.4h0M417.8 74.2h0M435.1 74.1h0M444.3 73.9h0M441.8 73.7h0M441.1 73.5h0M455.1 73.4h0M438.0 73.2h0M462.7 73.1h0M435.1 72.9h0M461.7 72.8h0M461.0 72.5h0M451.1 72.4h0M441.3 72.2h0M450.8 72.1h0M453.4 71.9h0M424.0 71.8h0M469.3 71.5h0M442.9 71.3h0M451.6 71.2h0M443.5 70.9h0M468.2 70.9h0M460.4 70.4h0M457.7 70.2h0M439.4 70.1h0M428.3 69.8h0M468.2 69.5h0M439.2 69.4h0M450.6 69.3h0M442.9 69.0h0M464.5 68.6h0M460.3 68.5h0M431.9 68.1h0M442.4 68.0h0M467.7 67.6h0M456.8 67.6h0M440.7 67.3h0M450.9 67.1h0M469.8 66.8h0M462.4 66.5h0M440.3 66.4h0M453.8 66.2h0" stroke="#000" stroke-width="1.55" stroke-linecap="round" fill="none"/>
</svg>
</body></html>
